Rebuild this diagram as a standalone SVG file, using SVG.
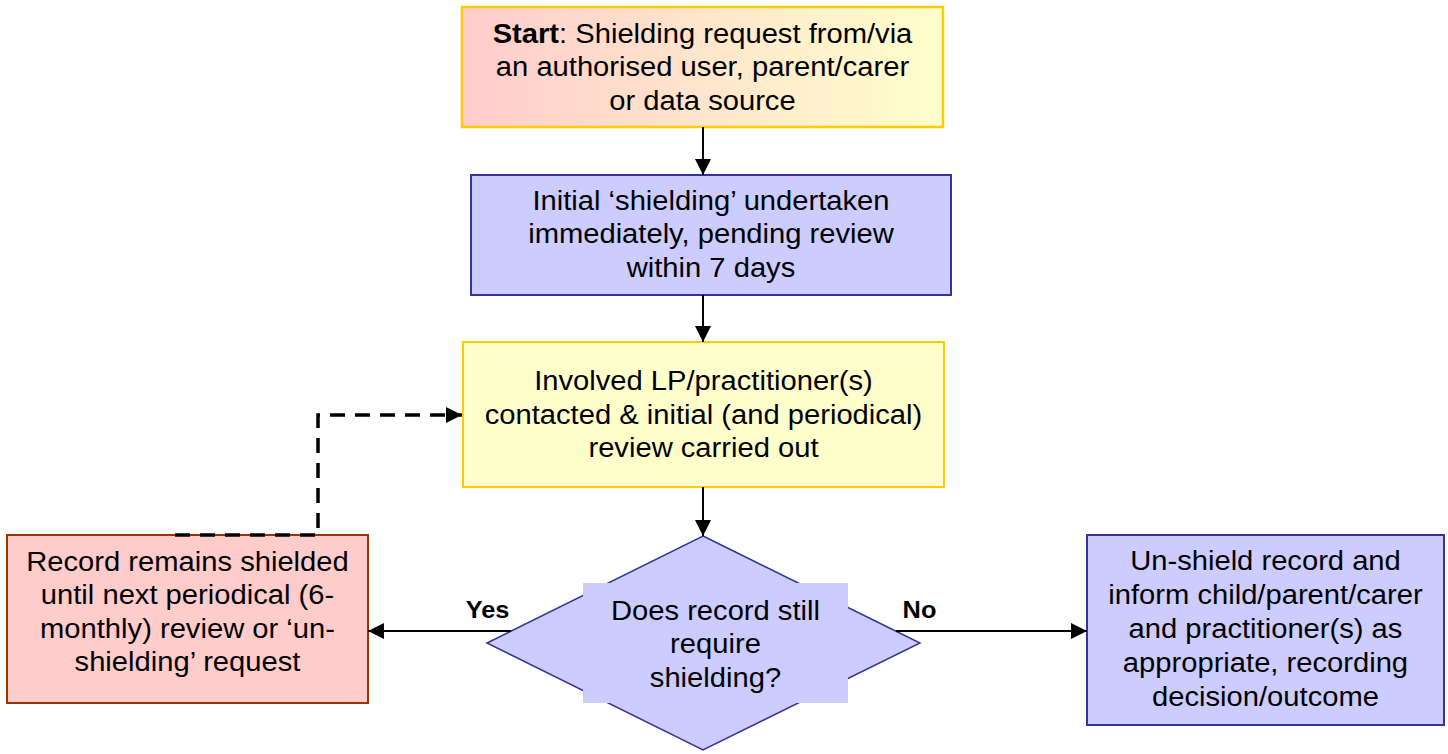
<svg xmlns="http://www.w3.org/2000/svg" width="1448" height="754" viewBox="0 0 1448 754">
<defs>
<linearGradient id="startGrad" x1="0" y1="0" x2="1" y2="0">
<stop offset="0" stop-color="#FFCCCC"/>
<stop offset="1" stop-color="#FFFFCC"/>
</linearGradient>
<marker id="arrow" markerUnits="userSpaceOnUse" markerWidth="16" markerHeight="16" viewBox="0 0 14 14" refX="14" refY="7" orient="auto">
<path d="M0,0 L14,7 L0,14 Z" fill="#000"/>
</marker>
</defs>
<style>
text{font-family:"Liberation Sans",Arial,sans-serif;font-size:27px;fill:#000;text-anchor:middle}
.b{font-weight:bold}
.lbl{font-size:23.5px;font-weight:bold}
.blue{fill:#CCCCFF;stroke:#333399;stroke-width:2}
.yellow{fill:#FFFFCC;stroke:#FFCC00;stroke-width:2}
.red{fill:#FFCCCC;stroke:#993300;stroke-width:2}
.conn{fill:none;stroke:#000;stroke-width:2;marker-end:url(#arrow)}
.dash{fill:none;stroke:#000;stroke-width:3.5;stroke-dasharray:15 10;marker-end:url(#arrow)}
</style>
<g id="start">
<rect x="462" y="7" width="481" height="120" fill="url(#startGrad)" stroke="#FFCC00" stroke-width="2.5"/>
<g transform="matrix(1.08,0,0,1,-56.2,0)">
<text x="702.5" y="43"><tspan class="b">Start</tspan>: Shielding request from/via</text>
<text x="702.5" y="76.5">an authorised user, parent/carer</text>
<text x="702.5" y="110">or data source</text>
</g>
</g>
<g id="initial">
<rect class="blue" x="471" y="175" width="480" height="120"/>
<g transform="matrix(1.08,0,0,1,-56.88,0)">
<text x="711" y="210">Initial ‘shielding’ undertaken</text>
<text x="711" y="243.5">immediately, pending review</text>
<text x="711" y="277">within 7 days</text>
</g>
</g>
<g id="review">
<rect class="yellow" x="463" y="342" width="481" height="145"/>
<g transform="matrix(1.08,0,0,1,-56.28,0)">
<text x="703.5" y="390">Involved LP/practitioner(s)</text>
<text x="703.5" y="424">contacted &amp; initial (and periodical)</text>
<text x="703.5" y="457">review carried out</text>
</g>
</g>
<g id="decision">
<polygon points="703,536 920,643 703,750 487,643" fill="#CCCCFF" stroke="#333399" stroke-width="1.5"/>
<rect x="583" y="583" width="265" height="120" fill="#CCCCFF"/>
<g transform="matrix(1.08,0,0,1,-57.24,0)">
<text x="715.5" y="620">Does record still</text>
<text x="715.5" y="653">require</text>
<text x="715.5" y="687">shielding?</text>
</g>
</g>
<g id="shielded">
<rect class="red" x="7" y="535" width="361" height="168"/>
<g transform="matrix(1.08,0,0,1,-15,0)">
<text x="187.5" y="571">Record remains shielded</text>
<text x="187.5" y="604.5">until next periodical (6-</text>
<text x="187.5" y="638">monthly) review or ‘un-</text>
<text x="187.5" y="671.5">shielding’ request</text>
</g>
</g>
<g id="unshield">
<rect class="blue" x="1087" y="535" width="357" height="190"/>
<g transform="matrix(1.08,0,0,1,-101.24,0)">
<text x="1265.5" y="570">Un-shield record and</text>
<text x="1265.5" y="604">inform child/parent/carer</text>
<text x="1265.5" y="638">and practitioner(s) as</text>
<text x="1265.5" y="672">appropriate, recording</text>
<text x="1265.5" y="706">decision/outcome</text>
</g>
</g>
<g id="connectors">
<line class="conn" x1="703" y1="127" x2="703" y2="175"/>
<line class="conn" x1="703" y1="295" x2="703" y2="342"/>
<line class="conn" x1="703" y1="487" x2="703" y2="536"/>
<line class="conn" x1="511" y1="631" x2="368" y2="631"/>
<line class="conn" x1="896" y1="631" x2="1087" y2="631"/>
<path class="dash" d="M175,535 H318 V415 H462"/>
<g transform="matrix(1.08,0,0,1,-39,0)">
<text class="lbl" x="487.5" y="618">Yes</text>
</g>
<g transform="matrix(1.08,0,0,1,-73.56,0)">
<text class="lbl" x="919.5" y="618">No</text>
</g>
</g>
</svg>
